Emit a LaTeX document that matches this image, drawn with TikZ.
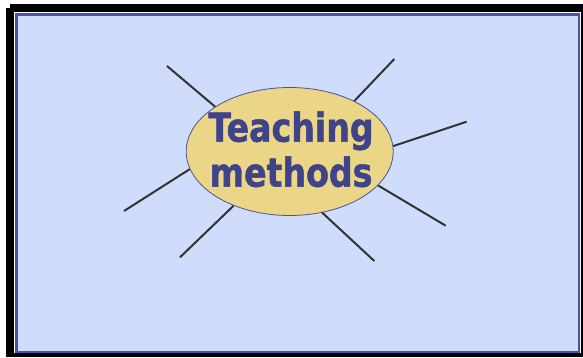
\documentclass[tikz,border=0pt]{standalone}
\usepackage{fontspec}
\setmainfont{DejaVu Sans}
\newfontfamily\labelfont{DejaVu Sans}[FakeStretch=0.83, BoldFeatures={FakeBold=1.2}]
\usetikzlibrary{shapes.geometric}
\definecolor{panelfill}{HTML}{CFDCFC}
\definecolor{panelborder}{HTML}{4B529E}
\definecolor{ovalfill}{HTML}{EBD688}
\definecolor{textblue}{HTML}{3F4389}
\definecolor{spoke}{HTML}{333333}
\tikzset{
  spokeline/.style={draw=spoke, line width=2pt},
  centreoval/.style={ellipse, draw=panelborder, line width=0.8pt, fill=ovalfill, minimum width=207pt, minimum height=128pt, inner sep=0pt},
  titletext/.style={text=textblue, font=\labelfont\bfseries\fontsize{40}{45}\selectfont, align=center, inner sep=0pt}
}
\begin{document}
\begin{tikzpicture}[x=1pt, y=-1pt]
\useasboundingbox (0,0) rectangle (583,357);
% shadow and panel
\fill[black] (10,4) rectangle (583,357);
\fill[black] (6,8) rectangle (583,357);
\fill[white] (14,12) rectangle (581,353);
\draw[panelborder, line width=2.5pt, fill=panelfill] (16.25,14.25) rectangle (578.75,351.75);
% centre
\node[centreoval] (e) at (289.7,151.5) {};
\node[titletext, anchor=base] (t) at (291,186.7) {Teaching\\methods};
% spoke ends
\coordinate (s1) at (167,66);
\coordinate (s2) at (394.3,59);
\coordinate (s3) at (466.7,121.7);
\coordinate (s4) at (445.7,225.7);
\coordinate (s5) at (374.3,261);
\coordinate (s6) at (180,257.3);
\coordinate (s7) at (124,211);
\draw[spokeline] (s1) -- (e.149.6);
\draw[spokeline] (s2) -- (e.38.6);
\draw[spokeline] (s3) -- (e.3.6);
\draw[spokeline] (s4) -- (e.-21.7);
\draw[spokeline] (s5) -- (e.-62.6);
\draw[spokeline] (s6) -- (e.-136.9);
\draw[spokeline] (s7) -- (e.190.8);
\end{tikzpicture}
\end{document}
